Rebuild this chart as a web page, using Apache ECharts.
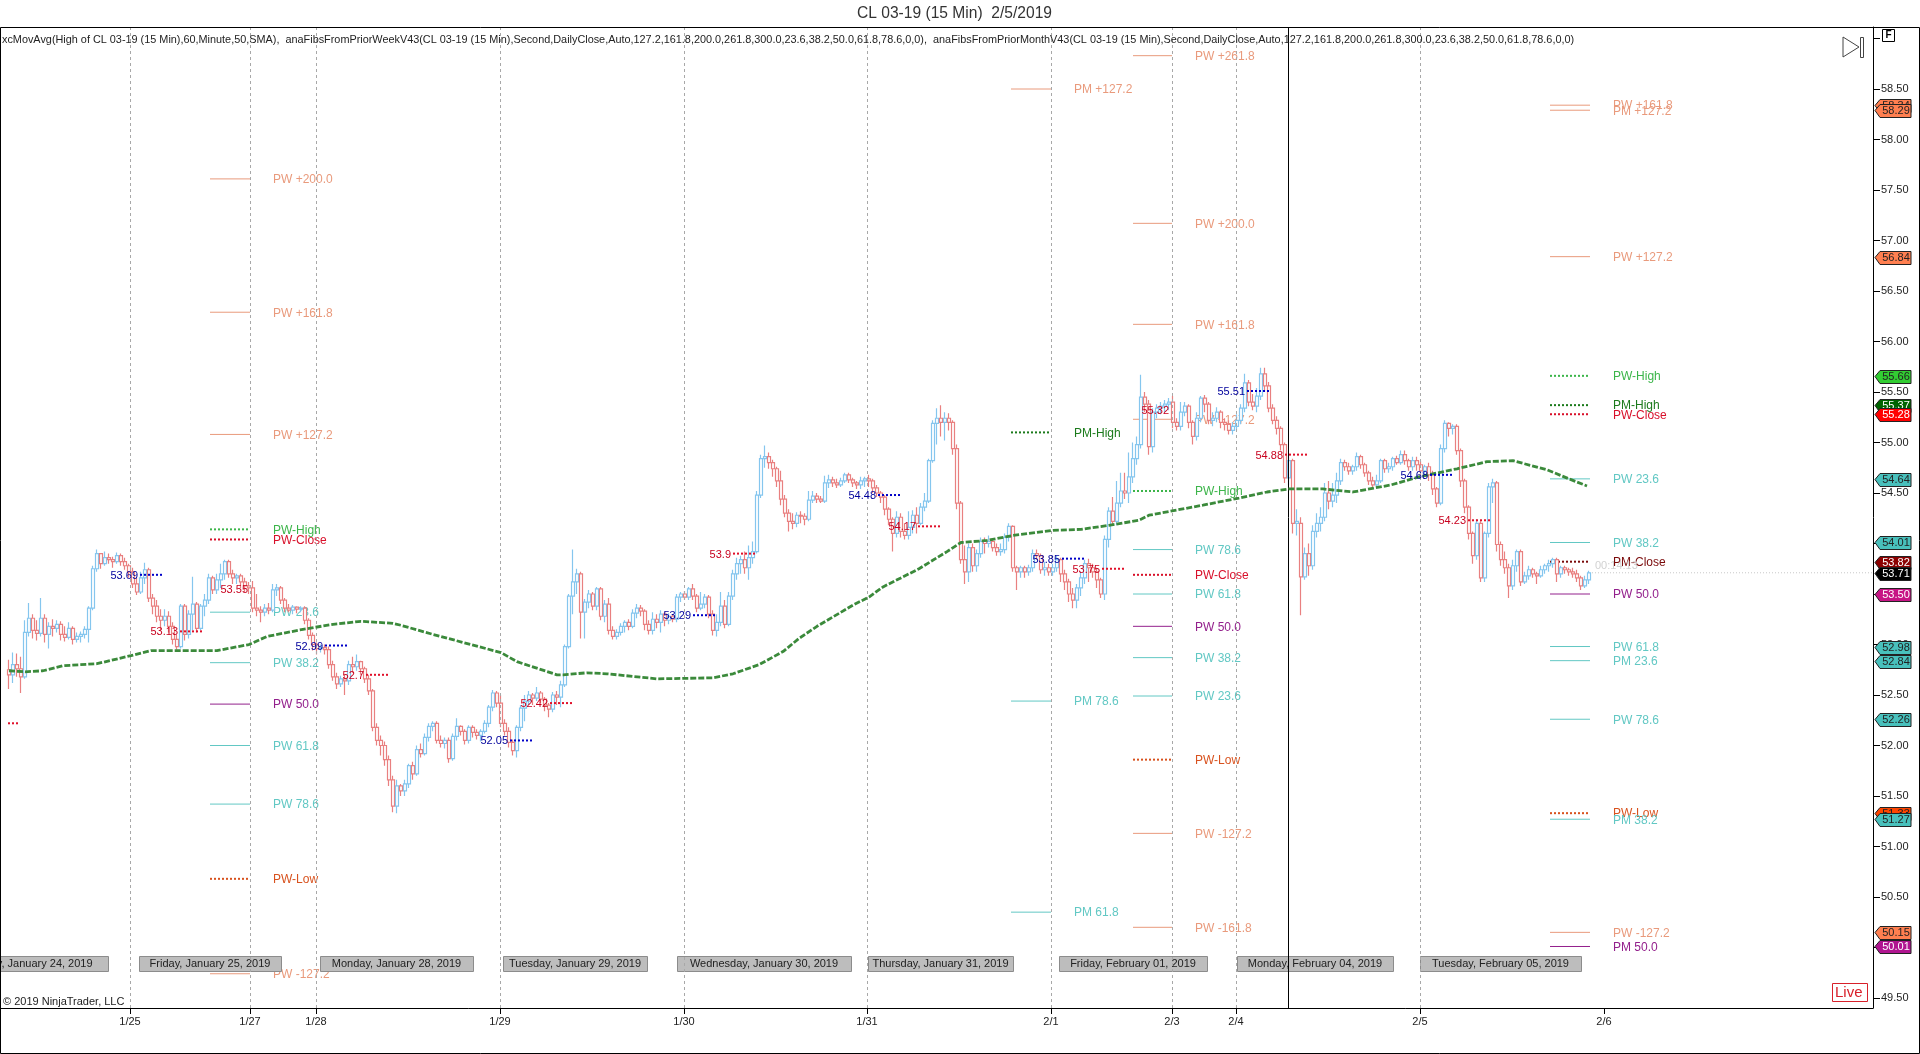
<!DOCTYPE html>
<html><head><meta charset="utf-8"><style>html,body{margin:0;padding:0;background:#fff}#c{width:1920px;height:1054px}</style>
<script src="https://cdn.jsdelivr.net/npm/echarts@6/dist/echarts.min.js"></script></head><body><div id="c"></div>
<script>
const chartTitle='CL 03-19 (15 Min)  2/5/2019';
const indicatorText='xcMovAvg(High of CL 03-19 (15 Min),60,Minute,50,SMA),  anaFibsFromPriorWeekV43(CL 03-19 (15 Min),Second,DailyClose,Auto,127.2,161.8,200.0,261.8,300.0,23.6,38.2,50.0,61.8,78.6,0,0),  anaFibsFromPriorMonthV43(CL 03-19 (15 Min),Second,DailyClose,Auto,127.2,161.8,200.0,261.8,300.0,23.6,38.2,50.0,61.8,78.6,0,0)';
const copyrightText='© 2019 NinjaTrader, LLC';
const timerText='00:14:13';
const yTickValues=[49.5,50,50.5,51,51.5,52,52.5,53,53.5,54,54.5,55,55.5,56,56.5,57,57.5,58,58.5,59];
const yLabelValues=yTickValues.slice(0,-1);
const dateBars=[64.5,124.5,157.5,249.5,341.5,433,525,585.5,617.5,709.5,801.5];
const dateLabels=['1/25','1/27','1/28','1/29','1/30','1/31','2/1','2/3','2/4','2/5','2/6'];
const separatorBars=dateBars.slice(0,-1);
const cursorBar=643.5;
const lastPrice=53.71, lastBar=794;
// candles: [open, close, low, high], one every two bars
const candles0124=[[52.75,52.70,52.56,52.85],[52.70,52.80,52.62,52.92],[52.80,52.76,52.68,52.91],[52.76,52.68,52.52,52.88],[52.68,53.12,52.66,53.24],[53.12,53.26,53.08,53.41],[53.26,53.14,53.06,53.30],[53.14,53.11,53.04,53.24],[53.11,53.26,53.08,53.46],[53.26,53.10,53.02,53.30],[53.10,53.18,52.96,53.22],[53.18,53.16,53.08,53.25],[53.16,53.20,53.12,53.24],[53.20,53.10,53.04,53.23],[53.10,53.07,53.03,53.18],[53.07,53.16,53.05,53.22],[53.16,53.05,53.00,53.18],[53.05,53.08,53.02,53.12],[53.08,53.10,53.02,53.13],[53.10,53.15,53.06,53.18],[53.15,53.36,53.02,53.38],[53.36,53.75,53.34,53.78],[53.75,53.90,53.72,53.94],[53.90,53.80,53.75,53.90],[53.80,53.86,53.78,53.92],[53.86,53.84,53.80,53.90],[53.84,53.82,53.76,53.87],[53.82,53.88,53.80,53.91],[53.88,53.82,53.78,53.90],[53.82,53.78,53.74,53.86],[53.78,53.72,53.66,53.80]];
const candles0125=[[53.72,53.60,53.56,53.76],[53.60,53.52,53.49,53.66],[53.52,53.66,53.50,53.72],[53.66,53.74,53.60,53.81],[53.74,53.46,53.42,53.76],[53.46,53.38,53.30,53.50],[53.38,53.28,53.22,53.44],[53.28,53.24,53.14,53.35],[53.24,53.28,53.18,53.35],[53.28,53.18,53.12,53.33],[53.18,53.05,53.00,53.22],[53.05,52.98,52.95,53.10],[52.98,53.38,52.96,53.40],[53.38,53.10,53.04,53.40],[53.10,53.30,53.06,53.34],[53.30,53.40,53.14,53.67],[53.40,53.16,53.12,53.42],[53.16,53.38,53.14,53.40],[53.38,53.44,53.28,53.50],[53.44,53.66,53.40,53.70],[53.66,53.54,53.50,53.68],[53.54,53.64,53.50,53.70],[53.64,53.70,53.56,53.80],[53.70,53.82,53.64,53.84],[53.82,53.70,53.66,53.84],[53.70,53.66,53.60,53.74],[53.66,53.68,53.60,53.70],[53.68,53.62,53.56,53.70],[53.62,53.58,53.52,53.66],[53.58,53.56,53.50,53.62]];
const candles0128=[[53.56,53.36,53.32,53.63],[53.36,53.34,53.28,53.50],[53.34,53.32,53.22,53.38],[53.32,53.36,53.28,53.40],[53.36,53.34,53.30,53.41],[53.34,53.54,53.32,53.60],[53.54,53.56,53.48,53.60],[53.56,53.44,53.40,53.58],[53.44,53.36,53.32,53.46],[53.36,53.34,53.32,53.40],[53.34,53.37,53.30,53.39],[53.37,53.35,53.31,53.38],[53.35,53.36,53.32,53.38],[53.36,53.24,53.20,53.38],[53.24,53.09,53.05,53.26],[53.09,53.00,52.94,53.12],[53.00,52.96,52.90,53.02],[52.96,52.97,52.92,53.00],[52.97,52.95,52.90,53.00],[52.95,52.80,52.76,52.98],[52.80,52.68,52.64,52.84],[52.68,52.61,52.56,52.72],[52.61,52.66,52.58,52.69],[52.66,52.64,52.50,52.70],[52.64,52.80,52.60,52.84],[52.80,52.78,52.72,52.88],[52.78,52.83,52.74,52.90],[52.83,52.76,52.70,52.84],[52.76,52.66,52.62,52.78],[52.66,52.54,52.50,52.70],[52.54,52.18,52.14,52.56],[52.18,52.05,52.00,52.22],[52.05,52.00,51.90,52.10],[52.00,51.86,51.80,52.04],[51.86,51.66,51.60,51.90],[51.66,51.40,51.34,51.70],[51.40,51.60,51.33,51.66],[51.60,51.55,51.50,51.62],[51.55,51.62,51.50,51.66],[51.62,51.80,51.58,51.82],[51.80,51.72,51.66,51.84],[51.72,51.96,51.70,52.00],[51.96,51.92,51.88,52.02],[51.92,52.08,51.90,52.12],[52.08,52.19,52.04,52.22],[52.19,52.22,52.14,52.24],[52.22,52.05,52.02,52.24],[52.05,52.02,51.98,52.10],[52.02,52.05,51.97,52.08],[52.05,51.87,51.83,52.08],[51.87,52.09,51.85,52.12],[52.09,52.19,52.05,52.27],[52.19,52.14,52.10,52.20],[52.14,52.05,52.01,52.16],[52.05,52.18,52.02,52.20],[52.18,52.13,52.08,52.20],[52.13,52.10,52.06,52.16],[52.10,52.14,52.04,52.16],[52.14,52.22,52.12,52.25],[52.22,52.38,52.18,52.40],[52.38,52.52,52.34,52.55],[52.52,52.42,52.38,52.54]];
const candles0129=[[52.42,52.22,52.18,52.50],[52.22,52.14,52.10,52.26],[52.14,52.03,51.98,52.18],[52.03,51.95,51.90,52.06],[51.95,52.18,51.88,52.20],[52.18,52.37,52.14,52.40],[52.37,52.44,52.24,52.50],[52.44,52.50,52.40,52.54],[52.50,52.47,52.40,52.52],[52.47,52.52,52.44,52.58],[52.52,52.46,52.42,52.54],[52.46,52.40,52.34,52.48],[52.40,52.36,52.28,52.42],[52.36,52.50,52.33,52.53],[52.50,52.48,52.40,52.54],[52.48,52.60,52.38,52.64],[52.60,52.98,52.58,53.00],[52.98,53.48,52.96,53.50],[53.48,53.62,53.30,53.94],[53.62,53.70,53.50,53.75],[53.70,53.32,53.06,53.72],[53.32,53.42,53.06,53.45],[53.42,53.50,53.36,53.54],[53.50,53.38,53.34,53.52],[53.38,53.55,53.34,53.57],[53.55,53.28,53.24,53.57],[53.28,53.40,53.22,53.44],[53.40,53.14,53.10,53.46],[53.14,53.08,53.05,53.18],[53.08,53.12,53.05,53.15],[53.12,53.18,53.09,53.21],[53.18,53.22,53.12,53.24],[53.22,53.18,53.14,53.25],[53.18,53.31,53.16,53.35],[53.31,53.36,53.26,53.40],[53.36,53.33,53.28,53.39],[53.33,53.20,53.14,53.35],[53.20,53.14,53.10,53.24],[53.14,53.25,53.10,53.32],[53.25,53.22,53.16,53.30],[53.22,53.30,53.12,53.34],[53.30,53.24,53.18,53.32],[53.24,53.28,53.20,53.31],[53.28,53.25,53.22,53.30],[53.25,53.47,53.22,53.50],[53.47,53.50,53.42,53.52]];
const candles0130=[[53.50,53.47,53.44,53.53],[53.47,53.55,53.44,53.57],[53.55,53.48,53.44,53.60],[53.48,53.36,53.32,53.50],[53.36,53.40,53.34,53.52],[53.40,53.47,53.36,53.50],[53.47,53.30,53.26,53.49],[53.30,53.14,53.09,53.34],[53.14,53.22,53.08,53.30],[53.22,53.38,53.18,53.52],[53.38,53.20,53.16,53.44],[53.20,53.48,53.18,53.52],[53.48,53.70,53.44,53.74],[53.70,53.80,53.64,53.86],[53.80,53.84,53.70,53.88],[53.84,53.76,53.70,53.92],[53.76,53.86,53.64,53.98],[53.86,53.92,53.80,54.02],[53.92,54.48,53.90,54.52],[54.48,54.84,54.45,54.88],[54.84,54.86,54.75,54.97],[54.86,54.80,54.74,54.90],[54.80,54.74,54.66,54.83],[54.74,54.62,54.56,54.76],[54.62,54.44,54.38,54.72],[54.44,54.30,54.26,54.48],[54.30,54.22,54.12,54.34],[54.22,54.20,54.14,54.30],[54.20,54.28,54.16,54.31],[54.28,54.27,54.20,54.32],[54.27,54.24,54.18,54.30],[54.24,54.43,54.22,54.52],[54.43,54.47,54.40,54.52],[54.47,54.44,54.40,54.50],[54.44,54.42,54.40,54.47],[54.42,54.60,54.40,54.67],[54.60,54.63,54.55,54.68],[54.63,54.60,54.56,54.66],[54.60,54.58,54.55,54.64],[54.58,54.62,54.56,54.65],[54.62,54.68,54.60,54.70],[54.68,54.63,54.60,54.70],[54.63,54.60,54.56,54.65],[54.60,54.58,54.54,54.62],[54.58,54.62,54.54,54.66],[54.62,54.64,54.56,54.66]];
const candles0131=[[54.64,54.62,54.56,54.68],[54.62,54.55,54.50,54.64],[54.55,54.50,54.46,54.58],[54.50,54.46,54.40,54.52],[54.46,54.34,54.28,54.48],[54.34,54.24,54.18,54.36],[54.24,54.10,53.92,54.26],[54.10,54.26,54.06,54.32],[54.26,54.12,54.06,54.30],[54.12,54.08,54.04,54.20],[54.08,54.16,54.04,54.32],[54.16,54.28,54.10,54.33],[54.28,54.20,54.10,54.36],[54.20,54.36,54.18,54.40],[54.36,54.42,54.32,54.50],[54.42,54.82,54.40,54.84],[54.82,55.19,54.80,55.22],[55.19,55.24,54.98,55.34],[55.24,55.20,55.06,55.37],[55.20,55.24,55.02,55.30],[55.24,55.20,55.12,55.29],[55.20,54.94,54.88,55.22],[54.94,54.40,54.34,54.98],[54.40,53.84,53.80,54.42],[53.84,53.72,53.60,53.98],[53.72,53.96,53.62,54.00],[53.96,53.78,53.72,54.00],[53.78,53.90,53.72,53.94],[53.90,54.02,53.86,54.06],[54.02,54.00,53.90,54.06],[54.00,54.02,53.96,54.08],[54.02,53.96,53.92,54.05],[53.96,53.92,53.88,54.00],[53.92,53.94,53.88,54.00],[53.94,54.06,53.90,54.10],[54.06,54.17,54.02,54.20],[54.17,53.76,53.72,54.18],[53.76,53.72,53.54,53.78],[53.72,53.76,53.66,53.78],[53.76,53.72,53.66,53.78],[53.72,53.76,53.68,53.79],[53.76,53.90,53.72,53.94],[53.90,53.88,53.84,53.94],[53.88,53.74,53.70,53.90],[53.74,53.76,53.68,53.82],[53.76,53.72,53.68,53.80]];
const candles0201=[[53.72,53.76,53.68,53.80],[53.76,53.84,53.72,53.88],[53.84,53.70,53.62,53.86],[53.70,53.62,53.54,53.74],[53.62,53.50,53.42,53.65],[53.50,53.44,53.36,53.56],[53.44,53.56,53.36,53.60],[53.56,53.66,53.48,53.72],[53.66,53.80,53.60,53.84],[53.80,53.76,53.62,53.85],[53.76,53.72,53.66,53.80],[53.72,53.64,53.56,53.76],[53.64,53.50,53.46,53.66],[53.50,54.04,53.44,54.08],[54.04,54.32,53.96,54.36],[54.32,54.22,54.18,54.46],[54.22,54.40,54.18,54.62],[54.40,54.52,54.36,54.70],[54.52,54.50,54.44,54.70],[54.50,54.66,54.40,54.90],[54.66,54.84,54.60,55.00],[54.84,54.98,54.78,55.06],[54.98,55.45,54.94,55.67],[55.45,55.38,55.30,55.50],[55.38,54.96,54.88,55.42],[54.96,55.30,54.90,55.34],[55.30,55.34,55.24,55.38],[55.34,55.36,55.28,55.40],[55.36,55.38,55.30,55.42],[55.38,55.40,55.32,55.44],[55.40,55.20,55.14,55.46],[55.20,55.16,55.12,55.24],[55.16,55.30,55.12,55.40],[55.30,55.36,55.26,55.40],[55.36,55.20,55.14,55.38],[55.20,55.06,54.98,55.22],[55.06,55.24,55.02,55.30],[55.24,55.44,55.20,55.46],[55.44,55.38,55.30,55.47],[55.38,55.22,55.18,55.40],[55.22,55.24,55.16,55.30],[55.24,55.30,55.20,55.35],[55.30,55.20,55.14,55.32],[55.20,55.18,55.12,55.24],[55.18,55.12,55.08,55.22],[55.12,55.16,55.08,55.20]];
const candles0204=[[55.16,55.22,55.12,55.28],[55.22,55.34,55.18,55.38],[55.34,55.59,55.30,55.68],[55.59,55.40,55.36,55.62],[55.40,55.36,55.32,55.48],[55.36,55.46,55.30,55.54],[55.46,55.68,55.42,55.74],[55.68,55.56,55.50,55.74],[55.56,55.34,55.30,55.60],[55.34,55.22,55.18,55.38],[55.22,55.14,55.08,55.26],[55.14,54.98,54.92,55.16],[54.98,54.65,54.60,55.00],[54.65,54.82,54.58,54.88],[54.82,54.20,54.10,54.84],[54.20,54.22,54.08,54.34],[54.20,53.67,53.29,54.26],[53.67,53.90,53.64,53.96],[53.90,53.78,53.68,54.00],[53.78,54.12,53.74,54.18],[54.12,54.20,54.06,54.30],[54.20,54.26,54.12,54.36],[54.26,54.50,54.22,54.60],[54.50,54.42,54.34,54.62],[54.42,54.48,54.36,54.60],[54.48,54.62,54.40,54.70],[54.62,54.80,54.58,54.84],[54.80,54.76,54.72,54.83],[54.76,54.72,54.68,54.80],[54.72,54.76,54.68,54.78],[54.76,54.86,54.72,54.90],[54.86,54.78,54.74,54.88],[54.78,54.70,54.66,54.80],[54.70,54.62,54.58,54.72],[54.62,54.58,54.56,54.66],[54.58,54.62,54.56,54.68],[54.62,54.82,54.60,54.84],[54.82,54.74,54.70,54.84],[54.74,54.76,54.70,54.80],[54.76,54.84,54.72,54.86],[54.84,54.80,54.78,54.87],[54.80,54.88,54.78,54.92],[54.88,54.82,54.78,54.92],[54.82,54.76,54.72,54.84],[54.76,54.82,54.72,54.86],[54.82,54.78,54.72,54.86]];
const candles0205=[[54.78,54.72,54.68,54.82],[54.72,54.76,54.66,54.78],[54.76,54.68,54.62,54.80],[54.68,54.54,54.48,54.72],[54.54,54.40,54.36,54.56],[54.40,54.94,54.38,54.98],[54.94,55.19,54.90,55.22],[55.19,55.14,55.06,55.20],[55.14,55.16,55.08,55.18],[55.16,54.92,54.88,55.18],[54.92,54.62,54.56,54.94],[54.62,54.36,54.30,54.64],[54.36,54.10,54.04,54.38],[54.10,53.88,53.80,54.12],[53.88,54.20,53.84,54.24],[54.20,53.66,53.62,54.22],[53.66,54.10,53.62,54.12],[54.10,54.56,54.06,54.60],[54.56,54.60,54.40,54.64],[54.60,53.99,53.92,54.62],[53.99,53.84,53.78,54.02],[53.84,53.76,53.70,53.92],[53.76,53.58,53.46,53.80],[53.58,53.78,53.54,53.84],[53.78,53.92,53.72,53.94],[53.92,53.62,53.58,53.94],[53.62,53.68,53.60,53.72],[53.68,53.74,53.64,53.78],[53.74,53.70,53.66,53.76],[53.70,53.68,53.60,53.72],[53.68,53.74,53.66,53.78],[53.74,53.78,53.70,53.80],[53.78,53.80,53.72,53.84],[53.80,53.84,53.76,53.86],[53.84,53.70,53.62,53.86],[53.70,53.76,53.66,53.78],[53.76,53.74,53.70,53.78],[53.74,53.72,53.68,53.76],[53.72,53.70,53.66,53.76],[53.70,53.66,53.62,53.74],[53.66,53.58,53.54,53.68],[53.58,53.64,53.56,53.68],[53.64,53.71,53.60,53.73]];
const sessions=[candles0124,candles0125,candles0128,candles0129,candles0130,candles0131,candles0201,candles0204,candles0205];
const sessionStartBars=[4,66,126,250,342,434,526,618,710];
// 50-period SMA
const smaBars=[4,12,21,31,48,65,75,108,124,133,151,166,180,196,200,216,250,258,278,281,293,303,328,356,366,379,391,399,408,426,434,441,459,473,480,493,506,526,540,554,569,574,601,619,633,644,661,676,695,709,728,743,756,773,784,793];
const smaValues=[52.74,52.73,52.74,52.79,52.81,52.89,52.94,52.94,53.0,53.08,53.15,53.2,53.23,53.21,53.19,53.1,52.92,52.83,52.7,52.7,52.72,52.71,52.66,52.67,52.71,52.8,52.93,53.06,53.18,53.39,53.47,53.57,53.75,53.92,54.01,54.03,54.08,54.13,54.14,54.18,54.23,54.28,54.38,54.45,54.51,54.54,54.54,54.51,54.58,54.66,54.74,54.81,54.82,54.73,54.64,54.57];
// fib level blocks
const fibBlockStart=[104.5,505,566,774.5];
const fibBlockEnd=[124.5,525,585.5,794.5];
const fibBlock=[0,0,0,0,0,0,0,0,0,0,0,0, 1,1,1,1, 2,2,2,2,2,2,2,2,2,2,2,2,2,2, 3,3,3,3,3,3,3,3,3,3,3,3,3,3,3,3,3];
const fibPrices=[57.61,56.29,55.08,54.14,54.04,53.32,52.82,52.41,52.0,51.42,50.68,49.74, 58.5,55.10,52.44,50.35, 58.83,57.17,56.17,55.23,54.52,53.94,53.69,53.5,53.18,52.87,52.49,51.86,51.13,50.2, 58.34,58.29,56.84,55.66,55.37,55.28,54.64,54.01,53.82,53.5,52.98,52.84,52.26,51.33,51.27,50.15,50.01];
const fibLabels=['PW +200.0','PW +161.8','PW +127.2','PW-High','PW-Close','PW 23.6','PW 38.2','PW 50.0','PW 61.8','PW 78.6','PW-Low','PW -127.2','PM +127.2','PM-High','PM 78.6','PM 61.8','PW +261.8','PW +200.0','PW +161.8','PW +127.2','PW-High','PW 78.6','PW-Close','PW 61.8','PW 50.0','PW 38.2','PW 23.6','PW-Low','PW -127.2','PW -161.8','PW +161.8','PM +127.2','PW +127.2','PW-High','PM-High','PW-Close','PW 23.6','PW 38.2','PM-Close','PW 50.0','PW 61.8','PM 23.6','PW 78.6','PW-Low','PM 38.2','PW -127.2','PM 50.0'];
// day high / low tags
const dayTagText=['53.69','52.99','52.05','53.29','54.48','53.85','55.51','54.68','53.13','53.55','52.7','52.42','53.9','54.17','53.75','55.32','54.88','54.23',''];
const dayTagPrices=[53.69,52.99,52.05,53.29,54.48,53.85,55.51,54.68,53.13,53.55,52.7,52.42,53.9,54.17,53.75,55.32,54.88,54.23,52.22];
const dayTagBars=[69.5,162,254.5,346,438.5,530.5,623,714.5,89.5,124.5,182.5,274.5,366,458.5,550.5,585,642,733.5,3.5];
const dayTagDots=[12,12,12,12,12,12,12,12,12,0,12,12,12,12,12,0,12,12,6];
const dayTagKind=['b','b','b','b','b','b','b','b','r','r','r','r','r','r','r','r','r','r','r'];
// day separators along the bottom
const dayBoxText=['Thursday, January 24, 2019','Friday, January 25, 2019','Monday, January 28, 2019','Tuesday, January 29, 2019','Wednesday, January 30, 2019','Thursday, January 31, 2019','Friday, February 01, 2019','Monday, February 04, 2019','Tuesday, February 05, 2019'];
const dayBoxStart=[-30,69,159.5,251,338,433.5,529,618,709.5];
const dayBoxEnd=[53.5,140,236,323,425,506,603,696,790];
const dayBoxPrice=49.835;
// right hand price flags
const flagValues=[58.34,58.29,56.84,55.66,55.37,55.28,54.64,54.01,53.82,53.71,53.50,52.98,52.84,52.26,51.33,51.27,50.15,50.01];
const flagText=['58.34','58.29','56.84','55.66','55.37','55.28','54.64','54.01','53.82','53.71','53.50','52.98','52.84','52.26','51.33','51.27','50.15','50.01'];
const flagFill=['#FF7F50','#FF7F50','#FF7F50','#32CD32','#006400','#FF0000','#48C0BC','#48C0BC','#8B0000','#000000','#C71585','#48C0BC','#48C0BC','#48C0BC','#FF4500','#48C0BC','#FF7F50','#B01590'];
const flagInk=['#222','#222','#222','#222','#fff','#fff','#222','#222','#fff','#fff','#fff','#222','#222','#222','#222','#222','#222','#fff'];

const FF='"Liberation Sans",Arial,sans-serif';
function fibStyle(l){
 if(l.indexOf('PW-High')===0) return {c:'#3CB54A',d:1};
 if(l.indexOf('PM-High')===0) return {c:'#1B7A1B',d:1};
 if(l.indexOf('PW-Close')===0) return {c:'#D8102A',d:1};
 if(l.indexOf('PM-Close')===0) return {c:'#7A0A0A',d:1};
 if(l.indexOf('-Low')>0) return {c:'#D8521E',d:1};
 if(l.indexOf('50.0')>0) return {c:'#93208C',d:0};
 if(/(23\.6|38\.2|61\.8|78\.6)$/.test(l)&&!/\+|PW -/.test(l)) return {c:'#62C8C4',d:0};
 return {c:'#E99A7C',d:0};
}
const candleData=[];
sessions.forEach((s,k)=>s.forEach((v,i)=>candleData.push([sessionStartBars[k]+i*2].concat(v))));
const xMax=936,yMin=49.401,yMax=59.114;
const chart=echarts.init(document.getElementById('c'),null,{renderer:'canvas'});
chart.setOption({
 animation:false,
 backgroundColor:'#fff',
 title:{text:chartTitle,left:857,top:6,padding:0,textStyle:{fontFamily:FF,fontSize:15.6,fontWeight:'normal',color:'#333'}},
 grid:{left:1,top:27,right:47,bottom:46},
 xAxis:{type:'value',min:0,max:xMax,splitLine:{show:false},
  axisLine:{show:true,onZero:false,lineStyle:{color:'#000',width:1}},
  axisTick:{show:true,length:6,customValues:dateBars,lineStyle:{color:'#000'}},
  axisLabel:{customValues:dateBars,margin:8,fontFamily:FF,fontSize:11,color:'#222',showMinLabel:true,showMaxLabel:true,
   formatter:v=>{const i=dateBars.indexOf(v);return i<0?'':dateLabels[i];}}},
 yAxis:{type:'value',position:'right',min:yMin,max:yMax,scale:true,splitLine:{show:false},
  axisLine:{show:true,onZero:false,lineStyle:{color:'#000',width:1}},
  axisTick:{show:true,length:7,customValues:yTickValues,lineStyle:{color:'#000'}},
  axisLabel:{customValues:yLabelValues,margin:8,fontFamily:FF,fontSize:11,color:'#222',formatter:v=>v.toFixed(2)}},
 graphic:[
  {type:'rect',shape:{x:0.5,y:27.5,width:1919,height:1026},style:{fill:'none',stroke:'#000',lineWidth:1},z:50,silent:true},
  {type:'text',x:2,y:34,style:{text:indicatorText,font:'10.87px '+FF,fill:'#222'},z:50,silent:true},
  {type:'text',x:3,y:996,style:{text:copyrightText,font:'11px '+FF,fill:'#222'},z:50,silent:true},
  {type:'text',x:1595,y:560,style:{text:timerText,font:'11px '+FF,fill:'#d2d2d2'},z:50,silent:true},
  {type:'polygon',shape:{points:[[1843,37],[1859,47],[1843,57]]},style:{fill:'#fff',stroke:'#444',lineWidth:1},z:50,silent:true},
  {type:'rect',shape:{x:1860.5,y:37.5,width:3,height:20},style:{fill:'#fff',stroke:'#444',lineWidth:1},z:50,silent:true},
  {type:'rect',shape:{x:1882.5,y:29.5,width:12,height:12},style:{fill:'#fff',stroke:'#000',lineWidth:1},z:50,silent:true},
  {type:'text',x:1885.5,y:30.5,style:{text:'F',font:'bold 10px '+FF,fill:'#000'},z:51,silent:true},
  {type:'rect',shape:{x:1832.5,y:983.5,width:35,height:18},style:{fill:'#fff',stroke:'#D8202A',lineWidth:1},z:50,silent:true},
  {type:'text',x:1835,y:985,style:{text:'Live',font:'15px '+FF,fill:'#D8202A'},z:51,silent:true}
 ],
 series:[
  {type:'line',name:'separators',data:[],z:1,silent:true,
   markLine:{silent:true,symbol:'none',label:{show:false},animation:false,
    data:separatorBars.map(b=>({xAxis:b,lineStyle:{color:'#a8a8a8',type:[3,3],width:1}})).concat([{xAxis:cursorBar,lineStyle:{color:'#000',type:'solid',width:1}}])}},
  {type:'line',name:'last',data:[[lastBar,lastPrice],[xMax,lastPrice]],showSymbol:false,silent:true,z:1,lineStyle:{color:'#c8c8c8',width:1,type:[1,2]}},
  {type:'custom',name:'fibs',z:2,silent:true,clip:false,
   data:fibPrices.map((p,i)=>[fibBlockStart[fibBlock[i]],fibBlockEnd[fibBlock[i]],p]),
   encode:{x:[0,1],y:2},
   renderItem:(params,api)=>{
    const i=params.dataIndex,a=api.coord([api.value(0),api.value(2)]),b=api.coord([api.value(1),api.value(2)]);
    const st=fibStyle(fibLabels[i]);
    return {type:'group',children:[
     {type:'line',shape:{x1:a[0],y1:a[1],x2:b[0],y2:b[1]},style:{stroke:st.c,lineWidth:st.d?2:1,lineDash:st.d?[2,2]:null}},
     {type:'text',style:{x:b[0]+23,y:b[1]+1,text:fibLabels[i],fill:st.c,font:'12px '+FF,align:'left',verticalAlign:'middle'}}
    ]};}},
  {type:'custom',name:'dayBoxes',z:3,silent:true,clip:false,
   data:dayBoxText.map((t,i)=>[dayBoxStart[i],dayBoxEnd[i],dayBoxPrice]),
   encode:{x:[0,1],y:2},
   renderItem:(params,api)=>{
    const i=params.dataIndex,a=api.coord([api.value(0),api.value(2)]),b=api.coord([api.value(1),api.value(2)]);
    return {type:'group',children:[
     {type:'rect',shape:{x:a[0]+0.5,y:Math.round(a[1])-7.5,width:b[0]-a[0],height:15},style:{fill:'#BDBDBD',stroke:'#8c8c8c',lineWidth:1}},
     {type:'text',style:{x:(a[0]+b[0])/2,y:a[1],text:dayBoxText[i],fill:'#222',font:'11px '+FF,align:'center',verticalAlign:'middle'}}
    ]};}},
  {type:'candlestick',name:'CL 03-19',z:4,silent:true,barWidth:3.2,data:candleData,
   itemStyle:{color:'#ffffff',color0:'#ffffff',borderColor:'#85C6EE',borderColor0:'#E98080',borderWidth:1.2}},
  {type:'line',name:'SMA',z:5,silent:true,showSymbol:false,data:smaBars.map((b,i)=>[b,smaValues[i]]),
   lineStyle:{color:'#3B8A3B',width:2.8,type:[6,2]}},
  {type:'custom',name:'dayTags',z:6,silent:true,clip:false,
   data:dayTagPrices.map((p,i)=>[dayTagBars[i],dayTagBars[i]+dayTagDots[i],p]),
   encode:{x:[0,1],y:2},
   renderItem:(params,api)=>{
    const i=params.dataIndex,a=api.coord([api.value(0),api.value(2)]),b=api.coord([api.value(1),api.value(2)]);
    const c=dayTagKind[i]==='b'?'#0000C8':'#E0102A',tc=dayTagKind[i]==='b'?'#00009C':'#C8001E';
    const kids=[{type:'text',style:{x:a[0]-2,y:a[1]+1,text:dayTagText[i],fill:tc,font:'11px '+FF,align:'right',verticalAlign:'middle'}}];
    if(dayTagDots[i]>0) kids.unshift({type:'line',shape:{x1:a[0],y1:a[1],x2:b[0],y2:b[1]},style:{stroke:c,lineWidth:2,lineDash:[2,2]}});
    return {type:'group',children:kids};}},
  {type:'custom',name:'flags',z:7,silent:true,clip:false,
   data:flagValues.map(v=>[xMax,v]),encode:{x:0,y:1},
   renderItem:(params,api)=>{
    const i=params.dataIndex,p=api.coord([api.value(0),api.value(1)]),x=p[0],y=Math.round(p[1])+0.5;
    return {type:'group',children:[
     {type:'polygon',shape:{points:[[x+2,y],[x+7,y-6],[x+38,y-6],[x+38,y+7],[x+7,y+7]]},style:{fill:flagFill[i],stroke:'#222',lineWidth:1}},
     {type:'text',style:{x:x+23,y:y+0.5,text:flagText[i],fill:flagInk[i],font:'11px '+FF,align:'center',verticalAlign:'middle'}}
    ]};}}
 ]
});
</script></body></html>
